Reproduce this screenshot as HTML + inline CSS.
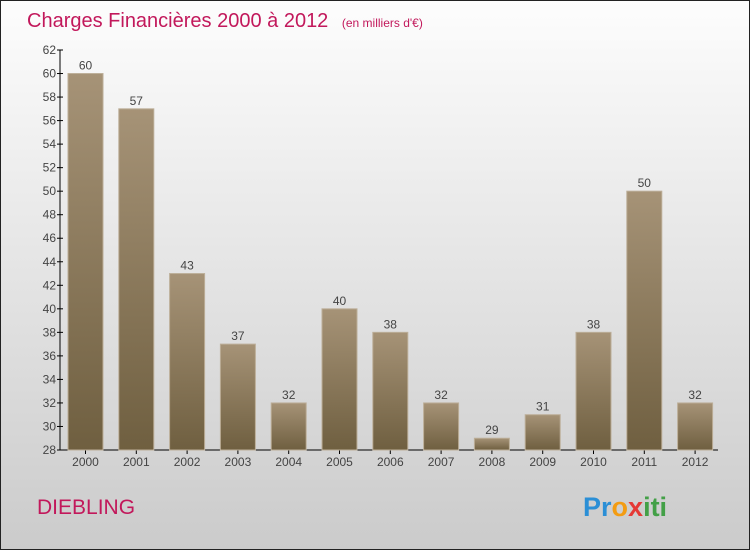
<!DOCTYPE html>
<html><head><meta charset="utf-8"><style>
body{margin:0;}
svg{display:block;font-family:"Liberation Sans",sans-serif;}
</style></head><body>
<svg id="c" width="750" height="550">
<defs>
<linearGradient id="bg" x1="0" y1="0" x2="0" y2="1"><stop offset="0" stop-color="#fdfdfd"/><stop offset="1" stop-color="#cbcbcb"/></linearGradient>
<linearGradient id="bar" x1="0" y1="0" x2="0" y2="1"><stop offset="0" stop-color="#a69377"/><stop offset="1" stop-color="#6f5f40"/></linearGradient>
</defs>
<rect x="0.5" y="0.5" width="749" height="549" fill="url(#bg)" stroke="#222"/>
<text x="27" y="27" font-size="20" fill="#c2185b">Charges Financières 2000 à 2012 <tspan font-size="12" dx="8">(en milliers d'€)</tspan></text>
<text x="37" y="514" font-size="21" fill="#c2185b">DIEBLING</text>
<text x="583" y="516" font-size="27" font-weight="bold"><tspan fill="#2b8fd6">Pr</tspan><tspan fill="#f39c12">o</tspan><tspan fill="#e53935">x</tspan><tspan fill="#43a047">iti</tspan></text>
<g id="axes"></g><g id="bars"></g>
</svg>
<script>
const years=["2000","2001","2002","2003","2004","2005","2006","2007","2008","2009","2010","2011","2012"];
const values=[60,57,43,37,32,40,38,32,29,31,38,50,32];
const yTicks=[28,30,32,34,36,38,40,42,44,46,48,50,52,54,56,58,60,62];
const ns="http://www.w3.org/2000/svg";
const y0=450,y1=50,vmin=28,vmax=62,x0=60,step=50.8,bw=35;
const yS=v=>y0-(v-vmin)*(y0-y1)/(vmax-vmin);
const xS=i=>85.5+i*step;
function mk(t,a,p){const e=document.createElementNS(ns,t);for(const k in a)e.setAttribute(k,a[k]);p.appendChild(e);return e;}
const ax=document.getElementById('axes'),bg=document.getElementById('bars');
const yl=mk('line',{x1:x0,y1:y1,x2:x0,y2:y0,stroke:'#000'},ax);


const xl=mk('line',{x1:x0,y1:y0,x2:718,y2:y0,stroke:'#000'},ax);


yTicks.forEach(v=>{const y=yS(v);
mk('line',{x1:x0-3,y1:y,x2:x0+3,y2:y,stroke:'#000'},ax);
const t=mk('text',{x:x0-4,y:y+4,'font-size':12,'text-anchor':'end',fill:'#444'},ax);t.textContent=v;

});
years.forEach((yr,i)=>{const cx=xS(i),v=values[i];
mk('line',{x1:cx,y1:y0,x2:cx,y2:y0+4,stroke:'#000'},ax);
const t=mk('text',{x:cx,y:y0+16,'font-size':12,'text-anchor':'middle',fill:'#444'},ax);t.textContent=yr;


const r=mk('rect',{x:cx-bw/2,y:yS(v),width:bw,height:y0-yS(v),fill:'url(#bar)',stroke:'#bcae98','stroke-width':1},bg);


const l=mk('text',{x:cx,y:yS(v)-4,'font-size':12,'text-anchor':'middle',fill:'#444'},bg);l.textContent=v;

});
</script>
</body></html>
